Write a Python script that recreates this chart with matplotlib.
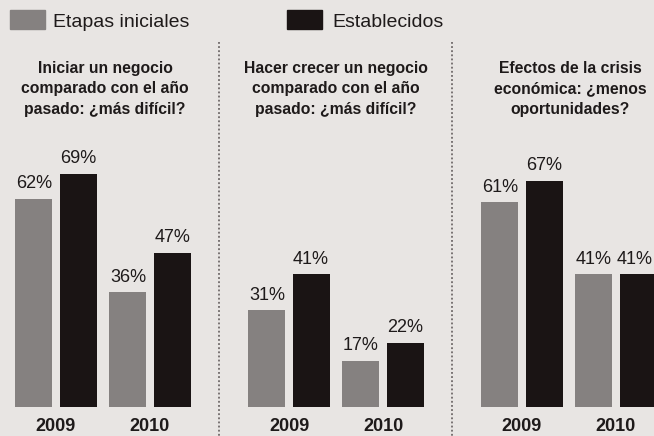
import matplotlib
matplotlib.use("Agg")
import matplotlib.pyplot as plt
from matplotlib.patches import Rectangle
from matplotlib.lines import Line2D
from matplotlib import font_manager

# ---- data ----
years = ["2009", "2010"]
series_names = ["Etapas iniciales", "Establecidos"]
panel_titles = [
    "Iniciar un negocio\ncomparado con el año\npasado: ¿más difícil?",
    "Hacer crecer un negocio\ncomparado con el año\npasado: ¿más difícil?",
    "Efectos de la crisis\neconómica: ¿menos\noportunidades?",
]
etapas_iniciales = [[62, 36], [31, 17], [61, 41]]
establecidos = [[69, 47], [41, 22], [67, 41]]

# ---- style ----
names = {f.name for f in font_manager.fontManager.ttflist}
FAM = ["Liberation Sans Narrow", "DejaVu Sans"] if "Liberation Sans Narrow" in names else ["Liberation Sans", "DejaVu Sans"]
plt.rcParams["font.family"] = FAM

BG = "#e8e5e3"
GRAY = "#858180"
BLACK = "#1a1414"
TXT = "#1e1a1a"

W, H = 654, 436
fig = plt.figure(figsize=(W / 100, H / 100), dpi=100, facecolor=BG)

def fx(px):
    return px / W

def fy(py):
    return 1 - py / H

# panel extents in pixels
panels_px = [(0, 219, 56), (219, 452, 289), (452, 654, 522)]
unit = 94.0          # px per group step
base_px = 422.0      # pixel row of value 0
px_per = 3.6         # px per percent
ax_bot, ax_top = 407, 100
ylo = (base_px - ax_bot) / px_per
yhi = (base_px - ax_top) / px_per
bw = 37 / unit
off = 0.235

for i, (a, b, c0) in enumerate(panels_px):
    ax = fig.add_axes([fx(a), fy(ax_bot), fx(b - a), (ax_bot - ax_top) / H])
    ax.set_facecolor("none")
    ax.set_xlim((a - c0) / unit, (b - c0) / unit)
    ax.set_ylim(ylo, yhi)
    xs = list(range(len(years)))
    r1 = ax.bar([x - off for x in xs], etapas_iniciales[i], width=bw, color=GRAY, clip_on=True)
    r2 = ax.bar([x + off for x in xs], establecidos[i], width=bw, color=BLACK, clip_on=True)
    last = i == len(panels_px) - 1
    for k, (rects, vals) in enumerate(((r1, etapas_iniciales[i]), (r2, establecidos[i]))):
        for j, (r, v) in enumerate(zip(rects, vals)):
            dx = -2.5 if (last and k == 1 and j == len(vals) - 1) else 0
            ax.annotate(f"{v}%", (r.get_x() + r.get_width() / 2, v),
                        xytext=(dx, 7.5), textcoords="offset points",
                        ha="center", va="baseline", fontsize=13, color=TXT,
                        annotation_clip=False)
    ax.set_xticks(xs)
    ax.set_xticklabels(years, fontsize=13, fontweight="bold", color=TXT)
    ax.tick_params(axis="x", length=0, pad=8)
    ax.set_yticks([])
    for s in ax.spines.values():
        s.set_visible(False)
    # title
    cx = [105, 336, 570][i]
    fig.text(fx(cx), fy(61), panel_titles[i], ha="center", va="top",
             fontsize=11.3, fontweight="bold", color=TXT, linespacing=1.45)

# dividers
for xd in (219, 452):
    fig.add_artist(Line2D([fx(xd), fx(xd)], [fy(42), fy(436)], color="#5a5454",
                          lw=1.1, linestyle=(0, (1.2, 1.5))))

# legend
leg = [(10, 45, GRAY, 53), (287, 322, BLACK, 332)]
for (x0, x1, col, tx), name in zip(leg, series_names):
    fig.add_artist(Rectangle((fx(x0), fy(29)), fx(x1 - x0), (29 - 10) / H,
                             transform=fig.transFigure, color=col))
    fig.text(fx(tx), fy(27), name, ha="left", va="baseline", fontsize=14, color=TXT)

fig.savefig("out.png", dpi=100, facecolor=BG)
